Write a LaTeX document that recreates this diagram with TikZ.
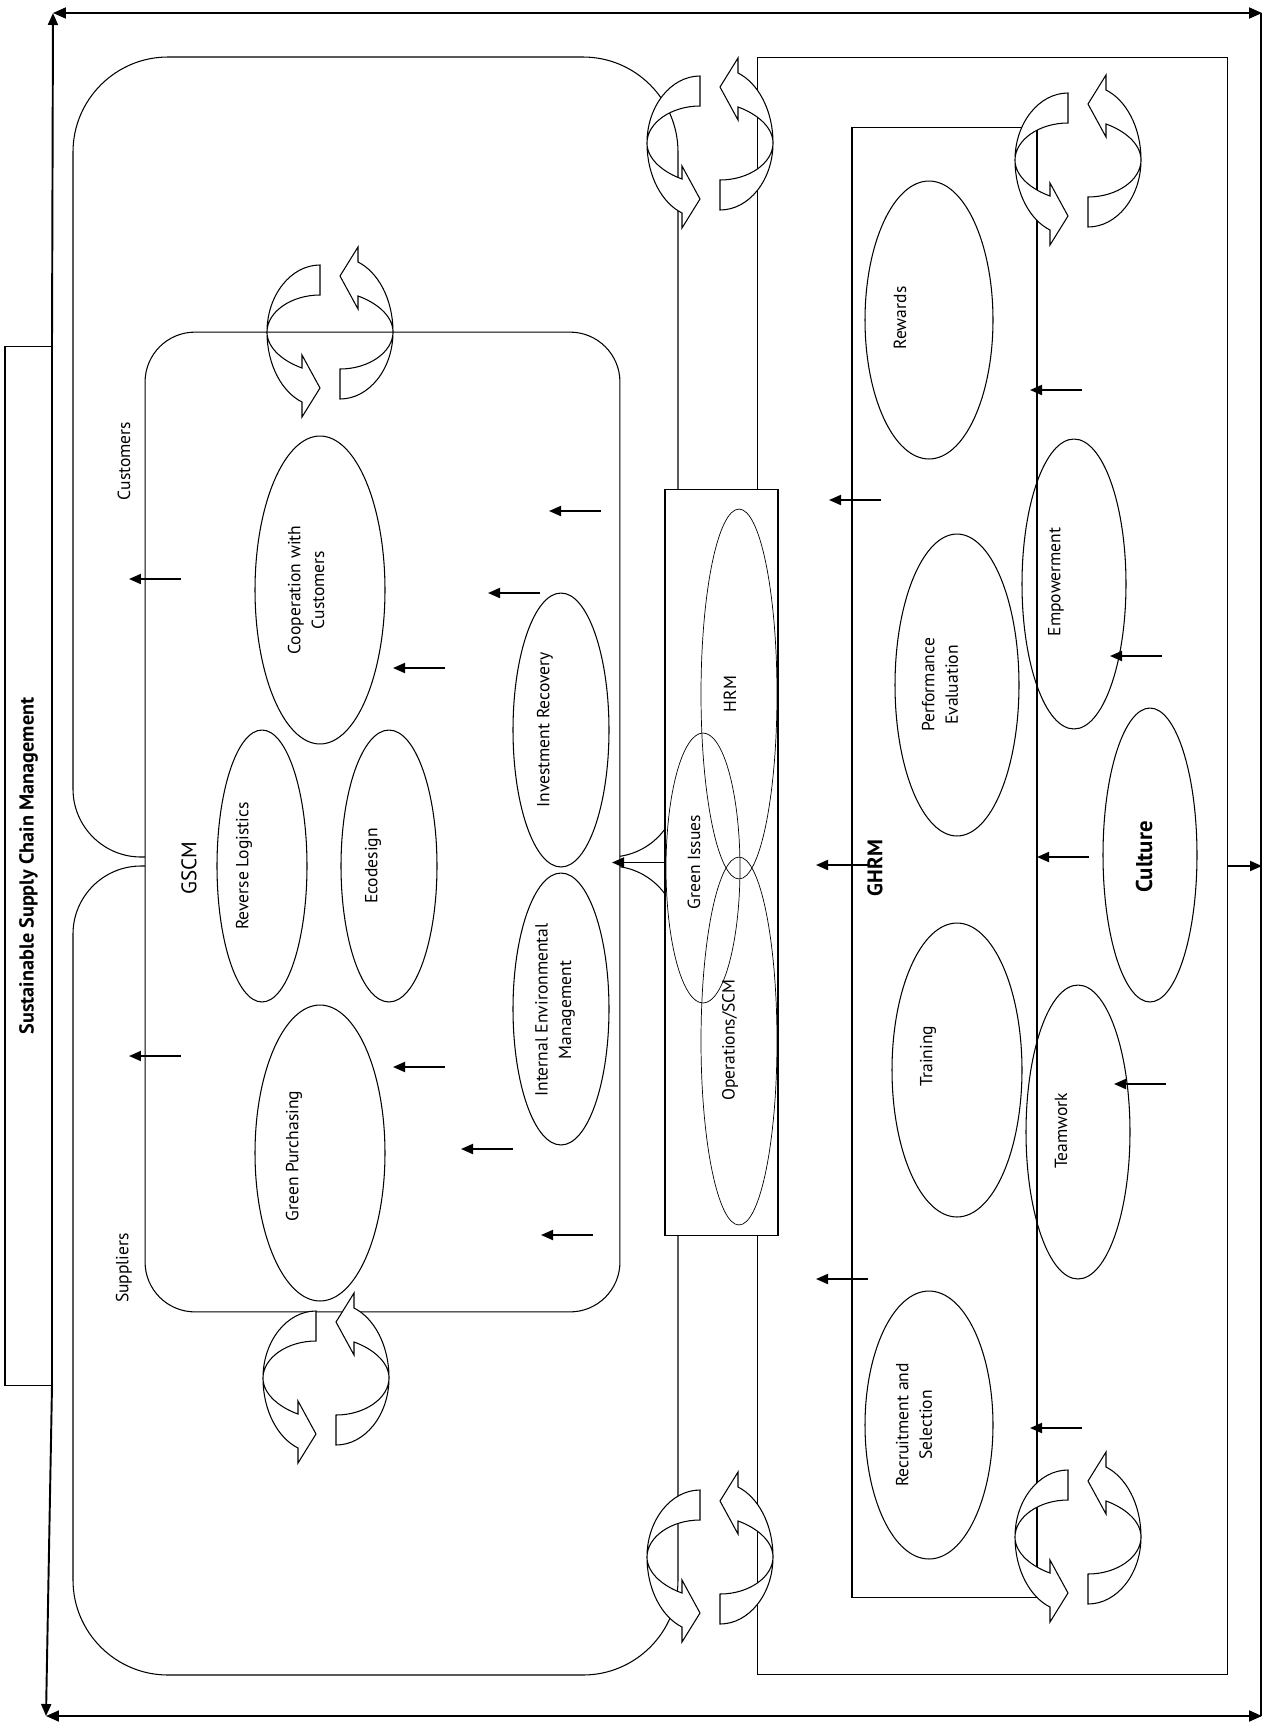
\documentclass[tikz,border=0pt]{standalone}
\usepackage{fontspec}
\setmainfont{PT Sans}
\usetikzlibrary{arrows.meta}
\usetikzlibrary{shapes.geometric}
\tikzset{
	boxstyle/.style={rectangle,draw=black,line width=0.6pt,fill=white,inner sep=0pt,outer sep=0pt},
	ovalstyle/.style={ellipse,draw=black,line width=0.6pt,inner sep=0pt,outer sep=0pt},
	thinoval/.style={ellipse,draw=black,line width=0.4pt,inner sep=0pt,outer sep=0pt},
	textstyle/.style={rotate=90,align=center,inner sep=0pt,font=\fontsize{10}{13.5}\selectfont},
	framestyle/.style={line width=1.1pt,{Stealth[inset=0pt,length=2.6mm,width=2.2mm]}-{Stealth[inset=0pt,length=2.6mm,width=2.2mm]}},
	pointstyle/.style={line width=1.1pt,-{Stealth[inset=0pt,length=2.4mm,width=2mm]}},
	cyclestyle/.style={draw=black,line width=0.6pt,fill=white},
	cyclepair/.pic={
		\path[cyclestyle] (-10,-67) .. controls (-39,-67) and (-63,-37) .. (-63,0) .. controls (-63,33) and (-48,60) .. (-28,70) -- (-28,85) -- (-10,56) -- (-28,23) -- (-28,36) .. controls (-45,30) and (-63,17) .. (-63,0) .. controls (-63,-20) and (-39,-37) .. (-10,-37) -- cycle;
		\path[cyclestyle,rotate=180] (-10,-67) .. controls (-39,-67) and (-63,-37) .. (-63,0) .. controls (-63,33) and (-48,60) .. (-28,70) -- (-28,85) -- (-10,56) -- (-28,23) -- (-28,36) .. controls (-45,30) and (-63,17) .. (-63,0) .. controls (-63,-20) and (-39,-37) .. (-10,-37) -- cycle;
	}
}

\begin{document}
\begin{tikzpicture}[x=0.02cm,y=-0.02cm]
	\useasboundingbox (0,0) rectangle (1264,1722);
	% customers and suppliers
	\draw[line width=0.6pt] (73,789) -- (73,152) .. controls (73,99.6) and (115.6,57) .. (168,57) -- (583,57) .. controls (635.4,57) and (678,99.6) .. (678,152) -- (678,789) .. controls (678,826.5) and (647.5,857) .. (610,857) -- (141,857) .. controls (103.5,857) and (73,826.5) .. cycle;
	\draw[line width=0.6pt] (73,934) .. controls (73,896.5) and (103.5,866) .. (141,866) -- (610,866) .. controls (647.5,866) and (678,896.5) .. (678,934) -- (678,1580) .. controls (678,1632.4) and (635.4,1675) .. (583,1675) -- (168,1675) .. controls (115.6,1675) and (73,1632.4) .. (73,1580) -- cycle;
	\node[textstyle] (tcust) at (124,461) {Customers};
	\node[textstyle] (tsupp) at (124,1268) {Suppliers};
	% boxes
	\node[boxstyle,minimum width=9.42cm,minimum height=32.36cm] (orgbox) at (992.5,866) {};
	\node[boxstyle,minimum width=3.7cm,minimum height=29.42cm] (ghrm) at (944.5,862.5) {};
	\node[boxstyle,rounded corners=1cm,minimum width=9.5cm,minimum height=19.6cm] (gscm) at (382.5,822) {};
	\node[boxstyle,minimum width=2.26cm,minimum height=14.94cm] (core) at (721.5,862.5) {};
	\node[boxstyle,minimum width=0.94cm,minimum height=20.8cm] (sscm) at (28.5,866) {};
	\node[textstyle,font=\bfseries\fontsize{11.5}{13}\selectfont] (tsscm) at (sscm) {Sustainable Supply Chain Management};
	% GSCM practices
	\node[ovalstyle,minimum width=2.6cm,minimum height=5.92cm] (purch) at (320,1153) {};
	\node[ovalstyle,minimum width=2.6cm,minimum height=6.16cm] (coop) at (320,590) {};
	\node[ovalstyle,minimum width=1.8cm,minimum height=5.44cm] (revlog) at (262,866) {};
	\node[ovalstyle,minimum width=1.92cm,minimum height=5.44cm] (ecod) at (389,866) {};
	\node[ovalstyle,minimum width=1.92cm,minimum height=5.48cm] (invrec) at (561,730) {};
	\node[ovalstyle,minimum width=1.92cm,minimum height=5.44cm] (iem) at (561,1009) {};
	\node[textstyle] (tpurch) at (294,1156) {Green Purchasing};
	\node[textstyle] (tcoop) at (306,590) {Cooperation with\\Customers};
	\node[textstyle] (trev) at (244,866) {Reverse Logistics};
	\node[textstyle] (teco) at (373,866) {Ecodesign};
	\node[textstyle] (tinv) at (545,730) {Investment Recovery};
	\node[textstyle] (tiem) at (555,1010) {Internal Environmental\\Management};
	\node[textstyle,font=\fontsize{12}{14}\selectfont] (tgscm) at (189,868) {GSCM};
	% core
	\node[thinoval,minimum width=1.52cm,minimum height=7.4cm] (hrm) at (739,694) {};
	\node[thinoval,minimum width=1.52cm,minimum height=7.36cm] (ops) at (739,1041) {};
	\node[thinoval,minimum width=1.48cm,minimum height=5.4cm] (green) at (703,868) {};
	\node[textstyle] (thrm) at (730,694) {HRM};
	\node[textstyle] (tgreen) at (694,862) {Green Issues};
	\node[textstyle] (tops) at (730,1040) {Operations/SCM};
	% GHRM practices
	\node[ovalstyle,minimum width=2.56cm,minimum height=5.56cm] (rewards) at (929,320) {};
	\node[ovalstyle,minimum width=2.48cm,minimum height=6.04cm] (perf) at (957,685) {};
	\node[ovalstyle,minimum width=2.6cm,minimum height=5.88cm] (training) at (957,1070) {};
	\node[ovalstyle,minimum width=2.56cm,minimum height=5.36cm] (recruit) at (929,1425) {};
	\node[ovalstyle,minimum width=2.08cm,minimum height=5.8cm] (empower) at (1074,584) {};
	\node[ovalstyle,minimum width=1.88cm,minimum height=5.88cm] (culture) at (1150,855) {};
	\node[ovalstyle,minimum width=2.08cm,minimum height=5.88cm] (teamwork) at (1078,1132) {};
	\node[textstyle] (trew) at (900,318) {Rewards};
	\node[textstyle] (tperf) at (940,685) {Performance\\Evaluation};
	\node[textstyle] (ttrain) at (928,1056) {Training};
	\node[textstyle] (trecr) at (914,1425) {Recruitment and\\Selection};
	\node[textstyle] (temp) at (1056,582) {Empowerment};
	\node[textstyle,font=\bfseries\fontsize{13}{15}\selectfont] (tcult) at (1144,857) {Culture};
	\node[textstyle] (tteam) at (1061,1131) {Teamwork};
	\node[textstyle,font=\bfseries\fontsize{12}{14}\selectfont] (tghrm) at (875,868) {GHRM};
	% small arrows
	\foreach \x/\y in {601/511,540/593,445/668,181/579,445/1067,513/1149,181/1056,593/1235,881/500,1082/390,1162/656,868/865,1089/857,1166/1084,868/1279,1082/1428}
		\draw[pointstyle] (\x,\y) -- ++(-52,0);
	\draw[pointstyle] (core.west) -- ++(-53,0);
	% outer frame
	\coordinate (tl) at (53,13);
	\coordinate (tr) at (1262,13);
	\coordinate (bl) at (46,1716);
	\coordinate (br) at (1262,1716);
	\draw[framestyle] (tl) -- (tr);
	\draw[framestyle] (bl) -- (br);
	\draw[line width=1.1pt] (1261,13) -- (1261,1716);
	\draw[pointstyle] (sscm.north east) -- (tl);
	\draw[pointstyle] (sscm.south east) -- (bl);
	\draw[pointstyle] (orgbox.east) -- (orgbox.east -| tr);
	% cycles
	\pic at (710,143) {cyclepair};
	\pic at (330,332) {cyclepair};
	\pic at (326,1378) {cyclepair};
	\pic at (710,1557) {cyclepair};
	\pic at (1078,160) {cyclepair};
	\pic at (1078,1537) {cyclepair};
\end{tikzpicture}
\end{document}
